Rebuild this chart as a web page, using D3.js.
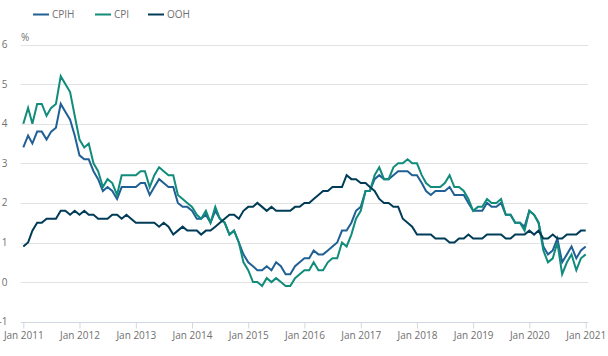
<!DOCTYPE html>
<html>
<head>
<meta charset="utf-8">
<script src="https://cdn.jsdelivr.net/npm/d3@7"></script>
<style>
  html, body { margin: 0; padding: 0; background: #fff; }
  svg { display: block; font-family: "Open Sans", sans-serif; }
</style>
</head>
<body>
<svg id="chart" width="608" height="356"></svg>
<script>
// ---- Data (12-month rates, %, Jan 2011 – Jan 2021) ----
const startMonth = "2011-01";
const seriesNames = ["CPIH", "CPI", "OOH"];
const cpih = [
  3.4, 3.7, 3.5, 3.8, 3.8, 3.6, 3.8, 3.9, 4.5, 4.3, 4.1, 3.7,
  3.2, 3.1, 3.1, 2.8, 2.6, 2.3, 2.4, 2.3, 2.1, 2.4, 2.4, 2.4,
  2.4, 2.5, 2.5, 2.2, 2.4, 2.6, 2.5, 2.4, 2.4, 2.0, 1.9, 1.9,
  1.8, 1.6, 1.6, 1.7, 1.5, 1.8, 1.6, 1.5, 1.2, 1.3, 1.0, 0.7,
  0.5, 0.4, 0.3, 0.3, 0.4, 0.3, 0.5, 0.4, 0.2, 0.2, 0.4, 0.5,
  0.6, 0.6, 0.8, 0.7, 0.7, 0.8, 0.9, 1.0, 1.3, 1.3, 1.5, 1.8,
  1.9, 2.3, 2.3, 2.6, 2.7, 2.6, 2.6, 2.7, 2.8, 2.8, 2.8, 2.7,
  2.7, 2.5, 2.3, 2.2, 2.3, 2.3, 2.3, 2.4, 2.2, 2.2, 2.2, 2.0,
  1.8, 1.8, 1.8, 2.0, 1.9, 1.9, 2.0, 1.7, 1.7, 1.5, 1.5, 1.4,
  1.8, 1.7, 1.5, 0.9, 0.7, 0.8, 1.1, 0.5, 0.7, 0.9, 0.6, 0.8,
  0.9
];
const cpi = [
  4.0, 4.4, 4.0, 4.5, 4.5, 4.2, 4.4, 4.5, 5.2, 5.0, 4.8, 4.2,
  3.6, 3.4, 3.5, 3.0, 2.8, 2.4, 2.6, 2.5, 2.2, 2.7, 2.7, 2.7,
  2.7, 2.8, 2.8, 2.4, 2.7, 2.9, 2.8, 2.7, 2.7, 2.2, 2.1, 2.0,
  1.9, 1.7, 1.6, 1.8, 1.5, 1.9, 1.6, 1.5, 1.2, 1.3, 1.0, 0.5,
  0.3, 0.0, 0.0, -0.1, 0.1, 0.0, 0.1, 0.0, -0.1, -0.1, 0.1, 0.2,
  0.3, 0.3, 0.5, 0.3, 0.3, 0.5, 0.6, 0.6, 1.0, 0.9, 1.2, 1.6,
  1.8, 2.3, 2.3, 2.7, 2.9, 2.6, 2.6, 2.9, 3.0, 3.0, 3.1, 3.0,
  3.0, 2.7, 2.5, 2.4, 2.4, 2.4, 2.5, 2.7, 2.4, 2.4, 2.3, 2.1,
  1.8, 1.9, 1.9, 2.1, 2.0, 2.0, 2.1, 1.7, 1.7, 1.5, 1.5, 1.3,
  1.8, 1.7, 1.5, 0.8, 0.5, 0.6, 1.0, 0.2, 0.5, 0.7, 0.3, 0.6,
  0.7
];
const ooh = [
  0.9, 1.0, 1.3, 1.5, 1.5, 1.6, 1.6, 1.6, 1.8, 1.8, 1.7, 1.8,
  1.7, 1.8, 1.7, 1.7, 1.6, 1.6, 1.6, 1.7, 1.7, 1.6, 1.7, 1.6,
  1.5, 1.5, 1.5, 1.5, 1.5, 1.4, 1.5, 1.4, 1.2, 1.3, 1.4, 1.3,
  1.3, 1.3, 1.2, 1.3, 1.3, 1.4, 1.5, 1.6, 1.7, 1.7, 1.6, 1.8,
  1.9, 1.9, 2.0, 1.9, 1.8, 1.9, 1.8, 1.8, 1.8, 1.8, 1.9, 1.9,
  2.0, 2.0, 2.1, 2.2, 2.3, 2.3, 2.4, 2.4, 2.4, 2.7, 2.6, 2.6,
  2.5, 2.5, 2.4, 2.3, 2.1, 2.0, 2.0, 1.9, 1.9, 1.6, 1.5, 1.4,
  1.2, 1.2, 1.2, 1.2, 1.1, 1.1, 1.1, 1.0, 1.0, 1.1, 1.1, 1.2,
  1.1, 1.1, 1.1, 1.2, 1.2, 1.2, 1.2, 1.1, 1.1, 1.2, 1.2, 1.2,
  1.3, 1.2, 1.3, 1.1, 1.1, 1.2, 1.1, 1.1, 1.2, 1.2, 1.2, 1.3,
  1.3
];
const yTicks = [-1, 0, 1, 2, 3, 4, 5, 6];
const xTickYears = [2011, 2012, 2013, 2014, 2015, 2016, 2017, 2018, 2019, 2020, 2021];
const colors = { CPIH: "#206095", CPI: "#118c7b", OOH: "#003c57" };

// ---- Build ----
const parse = d3.timeParse("%Y-%m");
const start = parse(startMonth);
const months = d3.range(cpih.length).map(i => d3.timeMonth.offset(start, i));
const valuesBy = { CPIH: cpih, CPI: cpi, OOH: ooh };

const svg = d3.select("#chart");
const x = d3.scaleTime()
  .domain([months[0], months[months.length - 1]])
  .range([23.3, 585.7]);
const y = d3.scaleLinear().domain([-1, 6]).range([321.7, 44.5]);
const gridX0 = 20.7, gridX1 = 588.3;

// gridlines
svg.append("g").selectAll("line")
  .data(yTicks.filter(t => t !== -1))
  .join("line")
  .attr("x1", gridX0).attr("x2", gridX1)
  .attr("y1", d => Math.round(y(d)) + 0.5).attr("y2", d => Math.round(y(d)) + 0.5)
  .attr("stroke", "#e2e2e2").attr("stroke-width", 1);

// baseline (axis at -1)
svg.append("line")
  .attr("x1", gridX0).attr("x2", gridX1)
  .attr("y1", Math.round(y(-1)) + 0.5).attr("y2", Math.round(y(-1)) + 0.5)
  .attr("stroke", "#cfd8e2").attr("stroke-width", 1);

// y labels
svg.append("g").selectAll("text")
  .data(yTicks)
  .join("text")
  .attr("x", 7.5).attr("y", d => y(d) + 3.5)
  .attr("text-anchor", "end")
  .attr("font-size", 10).attr("fill", "#707070")
  .text(d => d);

svg.append("text")
  .attr("x", 21).attr("y", 40.5)
  .attr("font-size", 10).attr("fill", "#707070")
  .text("%");

// x axis
const xTickDates = xTickYears.map(yr => new Date(yr, 0, 1));
const xAxis = d3.axisBottom(x)
  .tickValues(xTickDates)
  .tickSize(6)
  .tickFormat(d3.timeFormat("Jan %Y"));
const gx = svg.append("g")
  .attr("transform", `translate(0,${Math.round(y(-1)) + 0.5})`)
  .call(xAxis);
gx.select(".domain").remove();
gx.selectAll(".tick line").attr("stroke", "#cfd8e2");
gx.selectAll(".tick text")
  .attr("font-family", "Open Sans, sans-serif")
  .attr("font-size", 10).attr("fill", "#707070").attr("dy", "0.85em").attr("y", 8);

// lines
const line = d3.line()
  .x((d, i) => x(months[i]))
  .y(d => y(d));

["CPIH", "CPI", "OOH"].forEach(name => {
  svg.append("path")
    .datum(valuesBy[name])
    .attr("fill", "none")
    .attr("stroke", colors[name])
    .attr("stroke-width", 2)
    .attr("stroke-linejoin", "miter")
    .attr("d", line);
});

// legend
const legendPos = [33, 95, 148];
const leg = svg.append("g");
seriesNames.forEach((name, i) => {
  const g = leg.append("g").attr("transform", `translate(${legendPos[i]},14.5)`);
  g.append("line").attr("x1", 0).attr("x2", 16).attr("y1", 0).attr("y2", 0)
    .attr("stroke", colors[name]).attr("stroke-width", 2);
  g.append("text").attr("x", 19).attr("y", 3.8)
    .attr("font-size", 10).attr("fill", "#707070").text(name);
});
</script>
</body>
</html>
